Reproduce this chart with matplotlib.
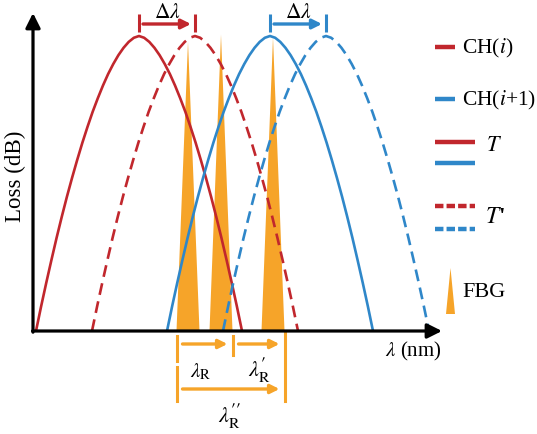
import matplotlib
matplotlib.use("Agg")
import matplotlib.pyplot as plt
from matplotlib.patches import Polygon
import numpy as np

plt.rcParams['font.family'] = ['Liberation Serif', 'DejaVu Serif']
plt.rcParams['mathtext.fontset'] = 'stix'

# ---------------- data (arbitrary wavelength units, normalised loss) ----------------
channel_labels = ['CH($i$)', 'CH($i$+1)']
channel_colors = ['#c1272d', '#2f87c9']
peak_at_T = [106, 237]          # peak wavelength of each channel at temperature T
delta_lambda = 56               # shift of each channel when T -> T'
half_width = 103                # half width of each loss curve at its base
# normalised shape of a loss curve (offset from peak / half width, loss)
profile_offset = [-1.0, -0.95, -0.9, -0.85, -0.8, -0.75, -0.7, -0.65, -0.6, -0.55, -0.5,
                  -0.45, -0.4, -0.35, -0.3, -0.25, -0.2, -0.15, -0.1, -0.05, 0.0,
                  0.05, 0.1, 0.15, 0.2, 0.25, 0.3, 0.35, 0.4, 0.45, 0.5,
                  0.55, 0.6, 0.65, 0.7, 0.75, 0.8, 0.85, 0.9, 0.95, 1.0]
profile_loss = [0.0, 0.084, 0.164, 0.241, 0.316, 0.387, 0.455, 0.519, 0.58, 0.638, 0.692,
                0.743, 0.789, 0.832, 0.871, 0.905, 0.935, 0.96, 0.98, 0.994, 1.0,
                0.994, 0.98, 0.96, 0.935, 0.905, 0.871, 0.832, 0.789, 0.743, 0.692,
                0.638, 0.58, 0.519, 0.455, 0.387, 0.316, 0.241, 0.164, 0.084, 0.0]
fbg_centers = [155, 188, 240]   # FBG reflection wavelengths
fbg_heights = [0.98, 1.005, 0.995]
fbg_half_width = 11.5
orange = '#f6a429'

W, H = 537, 435
fig = plt.figure(figsize=(W / 100, H / 100), dpi=100)
ox, oy, yscale = 33, 332, 295  # pixel origin of the data axes and pixel height of unit loss
ax = fig.add_axes([0, 0, 1, 1])
ax.set_xlim(-ox, W - ox)
ax.set_ylim(-(H - oy) / yscale, oy / yscale)
ax.axis('off')

def py(p):
    """pixel row -> loss units"""
    return (oy - p) / yscale

# FBG spikes
for c, h in zip(fbg_centers, fbg_heights):
    ax.add_patch(Polygon([[c - fbg_half_width, 0], [c, h], [c + fbg_half_width, 0]],
                         closed=True, facecolor=orange, edgecolor='none', zorder=2))

# loss curves
u = np.array(profile_offset)
for pk, col in zip(peak_at_T, channel_colors):
    ax.plot(pk + half_width * u, profile_loss, color=col, lw=1.9, zorder=3,
            solid_capstyle='butt', solid_joinstyle='round')
    ax.plot(pk + delta_lambda + half_width * u, profile_loss, color=col, lw=1.9,
            ls=(0, (4.5, 2.5)), zorder=3, dash_capstyle='butt')

# axes arrows
ax.annotate('', xy=(409, 0), xytext=(-0.5, 0),
            arrowprops=dict(arrowstyle='-|>', lw=2.3, color='black', mutation_scale=22,
                            shrinkA=0, shrinkB=0), zorder=5)
ax.annotate('', xy=(0, py(14)), xytext=(0, -0.004),
            arrowprops=dict(arrowstyle='-|>', lw=2.3, color='black', mutation_scale=22,
                            shrinkA=0, shrinkB=0), zorder=5)

# delta lambda markers
for pk, col in zip(peak_at_T, channel_colors):
    for xx in (pk, pk + delta_lambda):
        ax.plot([xx, xx], [py(33), py(15)], color=col, lw=2.2, solid_capstyle='butt')
    ax.annotate('', xy=(pk + delta_lambda - 4, py(25)), xytext=(pk + 4, py(25)),
                arrowprops=dict(arrowstyle='-|>', lw=2.4, color=col, mutation_scale=14,
                                shrinkA=0, shrinkB=0))
    ax.text(pk + delta_lambda / 2, py(13), r'$\Delta\lambda$', ha='center', va='center',
            fontsize=15.5)

# lambda_R annotations
x0 = fbg_centers[0] - fbg_half_width
x1 = fbg_centers[1] + fbg_half_width
x2 = fbg_centers[2] + fbg_half_width
ax.plot([x0, x0], [py(337), py(362)], color=orange, lw=2.2)
ax.plot([x0, x0], [py(368), py(402)], color=orange, lw=2.2)
ax.plot([x1, x1], [py(337), py(356)], color=orange, lw=2.2)
ax.plot([x2, x2], [py(332), py(402)], color=orange, lw=2.2)
arr = dict(arrowstyle='-|>', lw=2.4, color=orange, mutation_scale=13, shrinkA=0, shrinkB=0)
ax.annotate('', xy=(x1 - 5, py(345)), xytext=(x0 + 6, py(345)), arrowprops=arr)
ax.annotate('', xy=(x2 - 5, py(345)), xytext=(x1 + 6, py(345)), arrowprops=arr)
ax.annotate('', xy=(x2 - 5, py(390)), xytext=(x0 + 6, py(390)), arrowprops=arr)
ax.text((x0 + x1) / 2 - 4, py(372), r'$\lambda_{\mathrm{R}}$', ha='center', va='center', fontsize=15)
ax.text((x1 + x2) / 2 + 1, py(370), r'$\lambda_{\mathrm{R}}^{\mathbf{\prime}}$',
        ha='center', va='center', fontsize=16)
ax.text((x0 + x2) / 2 - 1, py(416), r'$\lambda_{\mathrm{R}}^{\mathbf{\prime\prime}}$',
        ha='center', va='center', fontsize=16)

# axis labels
ax.text(413 - ox, py(351), r'$\lambda$ (nm)', ha='center', va='center', fontsize=15)
ax.text(15 - ox, py(176), 'Loss (dB)', ha='center', va='center', rotation=90, fontsize=16.5)

# ---------------- legend (overlay in pixel coordinates) ----------------
lg = fig.add_axes([0, 0, 1, 1], facecolor='none')
lg.set_xlim(0, W)
lg.set_ylim(H, 0)
lg.axis('off')
for lab, col, yy in zip(channel_labels, channel_colors, [48, 100]):
    lg.plot([435, 455], [yy, yy], color=col, lw=3.2, solid_capstyle='butt')
    lg.text(462, yy, lab, ha='left', va='center', fontsize=15.5)
for col, yy in zip(channel_colors, [143, 164]):
    lg.plot([435, 475], [yy, yy], color=col, lw=3.2, solid_capstyle='butt')
lg.text(486, 147, '$T$', ha='left', va='center', fontsize=16)
for col, yy in zip(channel_colors, [207, 230]):
    lg.plot([435, 475], [yy, yy], color=col, lw=3.2, ls=(0, (1.9, 0.7)), dash_capstyle='butt')
lg.text(485, 218, "$T$'", ha='left', va='center', fontsize=17, fontweight='bold')
lg.add_patch(Polygon([[446, 315], [450.5, 269], [455, 315]], closed=True,
                     facecolor=orange, edgecolor='none'))
lg.text(462, 293, 'FBG', ha='left', va='center', fontsize=16)

fig.savefig('out.png', dpi=100)
